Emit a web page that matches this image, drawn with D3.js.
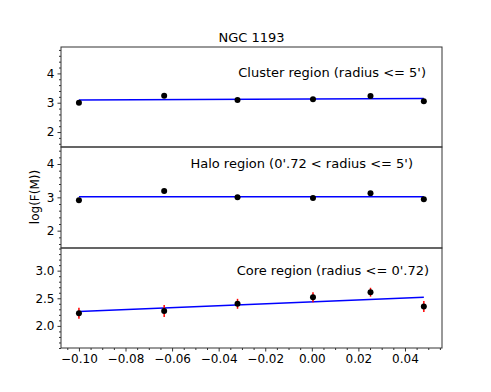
<!DOCTYPE html>
<html>
<head>
<meta charset="utf-8">
<script src="https://cdn.jsdelivr.net/npm/d3@7"></script>
<style>
  body { margin: 0; background: #fff; }
  svg { font-family: "DejaVu Sans", sans-serif; }
</style>
</head>
<body>
<svg id="chart" width="491" height="392"></svg>
<script>
// values
var xVals = [-0.100, -0.0634, -0.0319, 0.0005, 0.0252, 0.0481];
var clusterVals = [3.00, 3.24, 3.09, 3.12, 3.23, 3.05];
var haloVals = [2.91, 3.19, 3.00, 2.98, 3.12, 2.94];
var coreVals = [2.23, 2.27, 2.40, 2.52, 2.61, 2.35];
var coreErr = [0.10, 0.11, 0.09, 0.09, 0.08, 0.10];
// fitted line, value at first and last x
var clusterFit = [3.09, 3.14];
var haloFit = [3.02, 3.02];
var coreFit = [2.26, 2.52];
var xTicks = [-0.10, -0.08, -0.06, -0.04, -0.02, 0.00, 0.02, 0.04];

var svg = d3.select("#chart");
var left = 61, right = 442;

var x = d3.scaleLinear().domain([-0.1077, 0.0559]).range([left, right]);

var panels = [
  { top: 47, bottom: 147, domain: [1.49, 4.9], ticks: [2, 3, 4], minor: 0.2, fmt: d3.format("d"),
    vals: clusterVals, err: null, fit: clusterFit, label: "Cluster region (radius <= 5')", lx: 426, ly: 77 },
  { top: 147, bottom: 248, domain: [1.48, 4.51], ticks: [2, 3, 4], minor: 0.2, fmt: d3.format("d"),
    vals: haloVals, err: null, fit: haloFit, label: "Halo region (0'.72 < radius <= 5')", lx: 413, ly: 168 },
  { top: 248, bottom: 348, domain: [1.6, 3.41], ticks: [2.0, 2.5, 3.0], minor: 0.1, fmt: d3.format(".1f"),
    vals: coreVals, err: coreErr, fit: coreFit, label: "Core region (radius <= 0'.72)", lx: 429, ly: 275 }
];

panels.forEach(function (p, i) {
  var y = d3.scaleLinear().domain(p.domain).range([p.bottom, p.top]);
  var g = svg.append("g");

  // minor ticks
  var minorTicks = d3.range(Math.ceil(p.domain[0] / p.minor) * p.minor, p.domain[1], p.minor)
    .filter(function (v) { return p.ticks.every(function (t) { return Math.abs(t - v) > 1e-6; }); });
  g.append("g").attr("transform", "translate(" + left + ",0)")
    .call(d3.axisLeft(y).tickValues(minorTicks).tickSize(2).tickFormat(""))
    .call(function (a) { a.select(".domain").remove(); a.selectAll("line").attr("stroke", "#333"); });

  var ax = g.append("g").attr("transform", "translate(" + left + ",0)")
    .call(d3.axisLeft(y).tickValues(p.ticks).tickSize(3.5).tickPadding(3).tickFormat(p.fmt));
  ax.select(".domain").remove();
  ax.selectAll("text").attr("font-size", 12).attr("fill", "#000").attr("font-family", "DejaVu Sans");
  ax.selectAll("line").attr("stroke", "#333");

  // frame
  g.append("rect").attr("x", left).attr("y", p.top)
    .attr("width", right - left).attr("height", p.bottom - p.top)
    .attr("fill", "none").attr("stroke", "#333").attr("stroke-width", 1);

  // fit line
  g.append("line")
    .attr("x1", x(xVals[0])).attr("y1", y(p.fit[0]))
    .attr("x2", x(xVals[xVals.length - 1])).attr("y2", y(p.fit[1]))
    .attr("stroke", "#0000ff").attr("stroke-width", 1.5);

  // error bars
  if (p.err) {
    g.selectAll("line.err").data(p.vals).enter().append("line")
      .attr("class", "err")
      .attr("x1", function (d, j) { return x(xVals[j]); })
      .attr("x2", function (d, j) { return x(xVals[j]); })
      .attr("y1", function (d, j) { return y(d - p.err[j]); })
      .attr("y2", function (d, j) { return y(d + p.err[j]); })
      .attr("stroke", "red").attr("stroke-width", 1.5);
  }

  // points
  g.selectAll("circle").data(p.vals).enter().append("circle")
    .attr("cx", function (d, j) { return x(xVals[j]); })
    .attr("cy", function (d) { return y(d); })
    .attr("r", 3).attr("fill", "#000");

  g.append("text").attr("x", p.lx).attr("y", p.ly)
    .attr("text-anchor", "end").attr("font-size", 13).text(p.label);
});

// x axis
var minorX = d3.range(-0.105, 0.056, 0.005)
  .filter(function (v) { return xTicks.every(function (t) { return Math.abs(t - v) > 1e-6; }); });
svg.append("g").attr("transform", "translate(0,348)")
  .call(d3.axisBottom(x).tickValues(minorX).tickSize(2).tickFormat(""))
  .call(function (a) { a.select(".domain").remove(); a.selectAll("line").attr("stroke", "#333"); });
var xa = svg.append("g").attr("transform", "translate(0,348)")
  .call(d3.axisBottom(x).tickValues(xTicks).tickSize(3.5).tickPadding(3)
    .tickFormat(function (d) { return d3.format(".2f")(d).replace("-", "\u2212"); }));
xa.select(".domain").remove();
xa.selectAll("text").attr("font-size", 12).attr("fill", "#000").attr("font-family", "DejaVu Sans");
xa.selectAll("line").attr("stroke", "#333");

// title and y label
svg.append("text").attr("x", 251.5).attr("y", 42).attr("text-anchor", "middle")
  .attr("font-size", 13).text("NGC 1193");
svg.append("text").attr("transform", "translate(39,197) rotate(-90)")
  .attr("text-anchor", "middle").attr("font-size", 12).text("log(F(M))");
</script>
</body>
</html>
